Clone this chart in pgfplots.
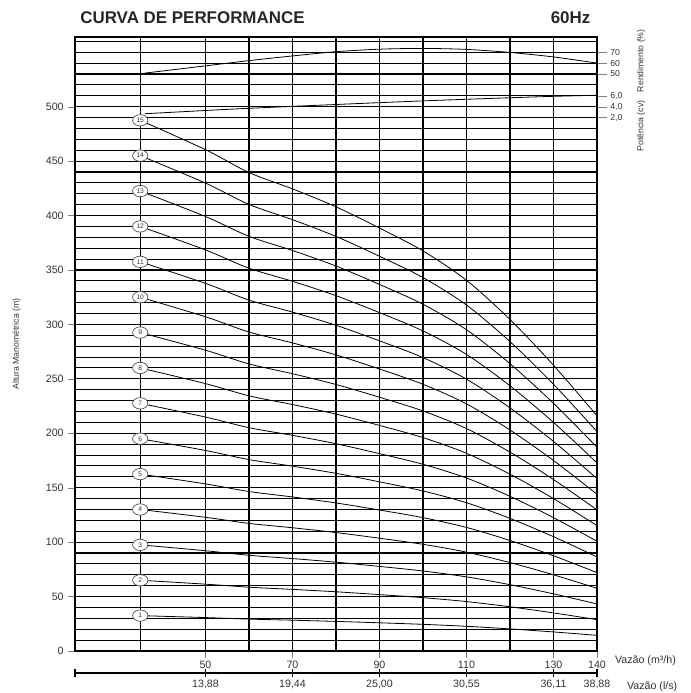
\documentclass[border=0pt]{standalone}
\usepackage{fontspec}
\setmainfont{Liberation Sans}
\usepackage{pgfplots}
\usepackage{pgfplotstable}
\pgfplotsset{compat=1.18}
\usetikzlibrary{shapes.geometric}

\pgfplotstableread{
x h1 h2 h3 h4 h5 h6 h7 h8 h9 h10 h11 h12 h13 h14 h15
35 32.5 65.0 97.5 130.0 162.5 195.0 227.5 260.0 292.5 325.0 357.5 390.0 422.5 455.0 487.5
50 30.7 61.4 92.1 122.8 153.5 184.2 214.9 245.6 276.3 307.0 337.7 368.4 399.1 429.8 460.5
60 29.3 58.6 87.9 117.2 146.5 175.8 205.1 234.4 263.7 293.0 322.3 351.6 380.9 410.2 439.5
70 28.3 56.6 84.9 113.2 141.5 169.8 198.1 226.4 254.7 283.0 311.3 339.6 367.9 396.2 424.5
80 27.2 54.4 81.6 108.8 136.0 163.2 190.4 217.6 244.8 272.0 299.2 326.4 353.6 380.8 408.0
90 25.9 51.8 77.7 103.6 129.5 155.4 181.3 207.2 233.1 259.0 284.9 310.8 336.7 362.6 388.5
100 24.5 49.0 73.5 98.0 122.5 147.0 171.5 196.0 220.5 245.0 269.5 294.0 318.5 343.0 367.5
110 22.7 45.4 68.1 90.8 113.5 136.2 158.9 181.6 204.3 227.0 249.7 272.4 295.1 317.8 340.5
120 20.3 40.6 60.9 81.2 101.5 121.8 142.1 162.4 182.7 203.0 223.3 243.6 263.9 284.2 304.5
130 17.5 35.0 52.5 70.0 87.5 105.0 122.5 140.0 157.5 175.0 192.5 210.0 227.5 245.0 262.5
140 14.4 28.8 43.2 57.6 72.0 86.4 100.8 115.2 129.6 144.0 158.4 172.8 187.2 201.6 216.0
}\headtable

% efficiency (%) drawn on head scale: value = 480 + eff
\pgfplotstableread{
x y
36 530.8
50 537.5
60 542.3
70 546.6
80 550.5
90 552.8
100 553.5
110 552.6
120 549.8
130 545.7
140 540.0
}\efftable

% power (cv) drawn on head scale: value = 480 + 5*P
\pgfplotstableread{
x y
36 493.5
50 496.5
60 498.5
70 500.3
80 502.0
90 503.7
100 505.3
110 506.8
120 508.2
130 509.5
140 510.5
}\powtable

\pgfplotstableread{
x y lab
35 487.5 15
35 455.0 14
35 422.5 13
35 390.0 12
35 357.5 11
35 325.0 10
35 292.5 9
35 260.0 8
35 227.5 7
35 195.0 6
35 162.5 5
35 130.0 4
35 97.5 3
35 65.0 2
35 32.5 1
}\stagetable

\definecolor{txt}{HTML}{333333}

\begin{document}
\begin{tikzpicture}
\useasboundingbox (-56.25pt,-31.5pt) rectangle (461.25pt,488.25pt);

% main axis
\begin{axis}[
  scale only axis, width=391.5pt, height=460.5pt,
  xmin=20, xmax=140, ymin=0, ymax=564,
  tick pos=left, tick align=outside,
  major tick length=5pt, minor tick length=0pt,
  xtick={50,70,90,110,130,140},
  minor xtick={35,60,80,100,120},
  ytick={0,50,100,150,200,250,300,350,400,450,500},
  minor ytick={10,20,30,40,60,70,80,90,110,120,130,140,160,170,180,190,210,220,230,240,260,270,280,290,310,320,330,340,360,370,380,390,410,420,430,440,460,470,480,490,510,520,530,540,550,560},
  grid=both,
  major x grid style={black, line width=1.1pt},
  minor x grid style={black, line width=1.1pt},
  major y grid style={black, line width=0.8pt},
  minor y grid style={black, line width=0.8pt},
  axis line style={black, line width=1pt},
  /pgf/number format/assume math mode=true,
  /pgf/number format/1000 sep={},
  ticklabel style={font=\fontsize{8}{9}\selectfont, text=txt},
  xticklabel style={yshift=1pt},
  xlabel={Vazão (m³/h)},
  xlabel style={at={(axis description cs:1,0)}, anchor=west, xshift=10pt, yshift=-7.5pt, font=\fontsize{8}{9}\selectfont, text=txt},
  ylabel={Altura Manométrica (m)},
  ylabel style={at={(axis description cs:-0.112,0.5)}, anchor=center, font=\fontsize{6.5}{7}\selectfont, text=txt},
]
\pgfplotsinvokeforeach{1,...,15}{
  \addplot[black, line width=0.6pt, smooth, mark=none] table[x=x, y=h#1] {\headtable};
}
\addplot[black, line width=0.6pt, smooth, mark=none] table[x=x, y=y] {\efftable};
\addplot[black, line width=0.6pt, smooth, mark=none] table[x=x, y=y] {\powtable};
\addplot[draw=none, mark=none, nodes near coords, point meta=explicit symbolic,
  nodes near coords align={center},
  nodes near coords style={ellipse, draw=black!70, line width=0.5pt, fill=white,
    minimum width=11.5pt, minimum height=8.5pt, inner sep=0pt, anchor=center,
    font=\fontsize{5}{5}\selectfont, text=txt}]
  table[x=x, y=y, meta=lab] {\stagetable};
\end{axis}

% right axis: efficiency and power
\begin{axis}[
  scale only axis, width=391.5pt, height=460.5pt,
  xmin=20, xmax=140, ymin=0, ymax=564,
  axis y line*=right, hide x axis,
  y axis line style={black, line width=1pt},
  tick align=outside, major tick length=7.5pt,
  ytick={490,500,510,530,540,550},
  yticklabels={{2,0},{4,0},{6,0},50,60,70},
  yticklabel style={font=\fontsize{6.5}{7}\selectfont, text=txt, anchor=west, xshift=-1pt},
]
\addplot[draw=none] coordinates {(20,0)};
\end{axis}

% l/s axis
\begin{axis}[
  scale only axis, width=391.5pt, height=10pt,
  at={(0pt,-16.5pt)}, anchor=south west,
  xmin=20, xmax=140, ymin=0, ymax=1,
  axis x line*=bottom, hide y axis,
  x axis line style={black, line width=1pt, -},
  tick align=center, major tick length=6pt,
  xtick={50,70,90,110,130,140},
  xticklabels={{13,88},{19,44},{25,00},{30,55},{36,11},{38,88}},
  extra x ticks={20}, extra x tick labels={},
  extra x tick style={tick align=center, major tick length=6pt},
  xtick style={black, line width=0.8pt},
  xticklabel style={font=\fontsize{8}{9}\selectfont, text=txt, yshift=1pt},
  xlabel={Vazão (l/s)},
  xlabel style={at={(axis description cs:1,0)}, anchor=west, xshift=19pt, yshift=-10pt, font=\fontsize{8}{9}\selectfont, text=txt},
]
\addplot[draw=none] coordinates {(20,0)};
\end{axis}

% titles
\node[anchor=west, font=\fontsize{12.7}{14}\selectfont\bfseries, text=black!85] at (0.5pt,475.3pt) {CURVA DE PERFORMANCE};
\node[anchor=east, font=\fontsize{12.7}{14}\selectfont\bfseries, text=black!85] at (390pt,475.3pt) {60Hz};
\node[rotate=90, font=\fontsize{6.5}{7}\selectfont, text=txt] at (424.5pt,420.5pt) {Potência (cv)\quad Rendimento (\%)};
\end{tikzpicture}
\end{document}
